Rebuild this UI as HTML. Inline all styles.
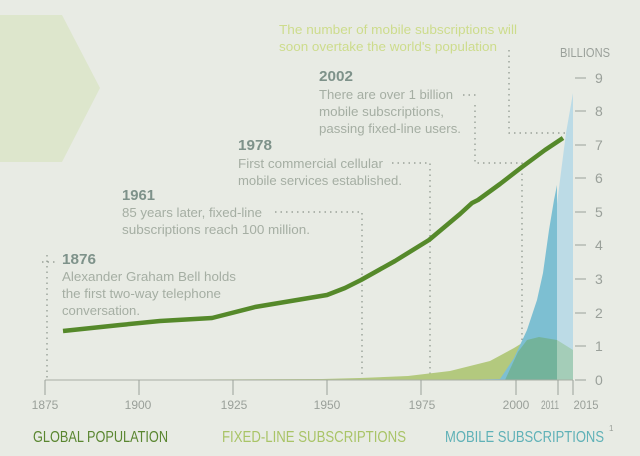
<!DOCTYPE html>
<html><head><style>
body{margin:0;background:#e8ebe4;}
svg{display:block;font-family:"Liberation Sans",sans-serif;}
</style></head><body>
<svg width="640" height="456" viewBox="0 0 640 456" xmlns="http://www.w3.org/2000/svg">
<rect width="640" height="456" fill="#e8ebe4"/>
<polygon points="0,15 62,15 100,88 62,162 0,162" fill="#dde6cc"/>
<g stroke="#8a948a" stroke-width="1.2" stroke-dasharray="1.5,4" fill="none">
<path d="M509,50 V133 H568"/>
<path d="M463,95 H477 M475,105 V163 H522 V375"/>
<path d="M392,163 H430 V375"/>
<path d="M275,212 H362 V375"/>
<path d="M42,262 H55 M47,255 V380"/>
</g>
<path d="M45,380 L322,379 L360,378 L408,376 L450,371 L490,361 L514,348 L527,340 L539,337 L557,340 L573,350 L573,380 Z" fill="#b3c97e"/>
<path d="M455,380 L505,379 L520,365 L530,340 L540,297 L550,260 L560,180 L566,133 L573,93 L573,380 Z" fill="#bcdbe6"/>
<path d="M455,380 L500,379 L514,358 L527,330 L537,300 L543,273 L549,230 L554,200 L557,185 L557,380 Z" fill="#7dbfd2"/>
<path d="M505,380 L518,352 L527,340 L539,337 L557,340 L557,380 Z" fill="#73b39b"/>
<path d="M557,340 L573,350 L573,380 L557,380 Z" fill="#a4cdb8"/>
<path d="M63,331 L120,325 L160,321 L212,318 L255,307 L327,295 L345,288 L361,280 L395,261 L429,240 L460,214 L472,203 L478,200 L500,184 L522,167 L545,150 L563,138" stroke="#55892a" stroke-width="4.5" fill="none" stroke-linejoin="round"/>
<line x1="45" y1="380" x2="573" y2="380" stroke="#a9aea5" stroke-width="1"/>
<g stroke="#9aa09a" stroke-width="1">
<path d="M45,380 V395 M139,380 V395 M233,380 V395 M327,380 V395 M421,380 V395 M516,380 V395 M558,380 V395 M573,380 V395"/>
<path d="M575,380 H586 M575,346 H586 M575,313 H586 M575,279 H586 M575,245 H586 M575,212 H586 M575,178 H586 M575,145 H586 M575,111 H586 M575,78 H586"/>
</g>
<g fill="#9aa09a" font-size="12">
<text x="45" y="409" text-anchor="middle">1875</text>
<text x="138" y="409" text-anchor="middle">1900</text>
<text x="234" y="409" text-anchor="middle">1925</text>
<text x="327" y="409" text-anchor="middle">1950</text>
<text x="422" y="409" text-anchor="middle">1975</text>
<text x="516" y="409" text-anchor="middle">2000</text>
<text x="550" y="409" text-anchor="middle" textLength="18" lengthAdjust="spacingAndGlyphs">2011</text>
<text x="586" y="409" text-anchor="middle" textLength="25" lengthAdjust="spacingAndGlyphs">2015</text>
</g>
<g fill="#9aa09a" font-size="14">
<text x="595" y="385">0</text><text x="595" y="351">1</text><text x="595" y="318">2</text>
<text x="595" y="284">3</text><text x="595" y="250">4</text><text x="595" y="217">5</text>
<text x="595" y="183">6</text><text x="595" y="150">7</text><text x="595" y="116">8</text>
<text x="595" y="83">9</text>
<text x="560" y="57" font-size="13" textLength="50" lengthAdjust="spacingAndGlyphs">BILLIONS</text>
</g>
<g fill="#a5aea3" font-size="13">
<text x="279" y="34" fill="#cddc8c" textLength="238" lengthAdjust="spacingAndGlyphs">The number of mobile subscriptions will</text>
<text x="279" y="51" fill="#cddc8c" textLength="218" lengthAdjust="spacingAndGlyphs">soon overtake the world's population</text>
<text x="319" y="81" fill="#7e928a" font-weight="bold" font-size="15" textLength="34" lengthAdjust="spacingAndGlyphs">2002</text>
<text x="319" y="99" textLength="134" lengthAdjust="spacingAndGlyphs">There are over 1 billion</text>
<text x="319" y="116" textLength="125" lengthAdjust="spacingAndGlyphs">mobile subscriptions,</text>
<text x="319" y="133" textLength="142" lengthAdjust="spacingAndGlyphs">passing fixed-line users.</text>
<text x="238" y="150" fill="#7e928a" font-weight="bold" font-size="15" textLength="34" lengthAdjust="spacingAndGlyphs">1978</text>
<text x="238" y="168" textLength="145" lengthAdjust="spacingAndGlyphs">First commercial cellular</text>
<text x="238" y="185" textLength="164" lengthAdjust="spacingAndGlyphs">mobile services established.</text>
<text x="122" y="200" fill="#7e928a" font-weight="bold" font-size="15" textLength="33" lengthAdjust="spacingAndGlyphs">1961</text>
<text x="122" y="217" textLength="140" lengthAdjust="spacingAndGlyphs">85 years later, fixed-line</text>
<text x="122" y="234" textLength="188" lengthAdjust="spacingAndGlyphs">subscriptions reach 100 million.</text>
<text x="62" y="264" fill="#7e928a" font-weight="bold" font-size="15" textLength="34" lengthAdjust="spacingAndGlyphs">1876</text>
<text x="62" y="281" textLength="174" lengthAdjust="spacingAndGlyphs">Alexander Graham Bell holds</text>
<text x="62" y="298" textLength="159" lengthAdjust="spacingAndGlyphs">the first two-way telephone</text>
<text x="62" y="315" textLength="78" lengthAdjust="spacingAndGlyphs">conversation.</text>
</g>
<g font-size="16">
<text x="33" y="442" fill="#5a8630" textLength="135" lengthAdjust="spacingAndGlyphs">GLOBAL POPULATION</text>
<text x="222" y="442" fill="#a9c467" textLength="184" lengthAdjust="spacingAndGlyphs">FIXED-LINE SUBSCRIPTIONS</text>
<text x="445" y="442" fill="#5fb1b7" textLength="159" lengthAdjust="spacingAndGlyphs">MOBILE SUBSCRIPTIONS</text>
<text x="609" y="431" fill="#9aa09a" font-size="8">1</text>
</g>
</svg>
</body></html>
